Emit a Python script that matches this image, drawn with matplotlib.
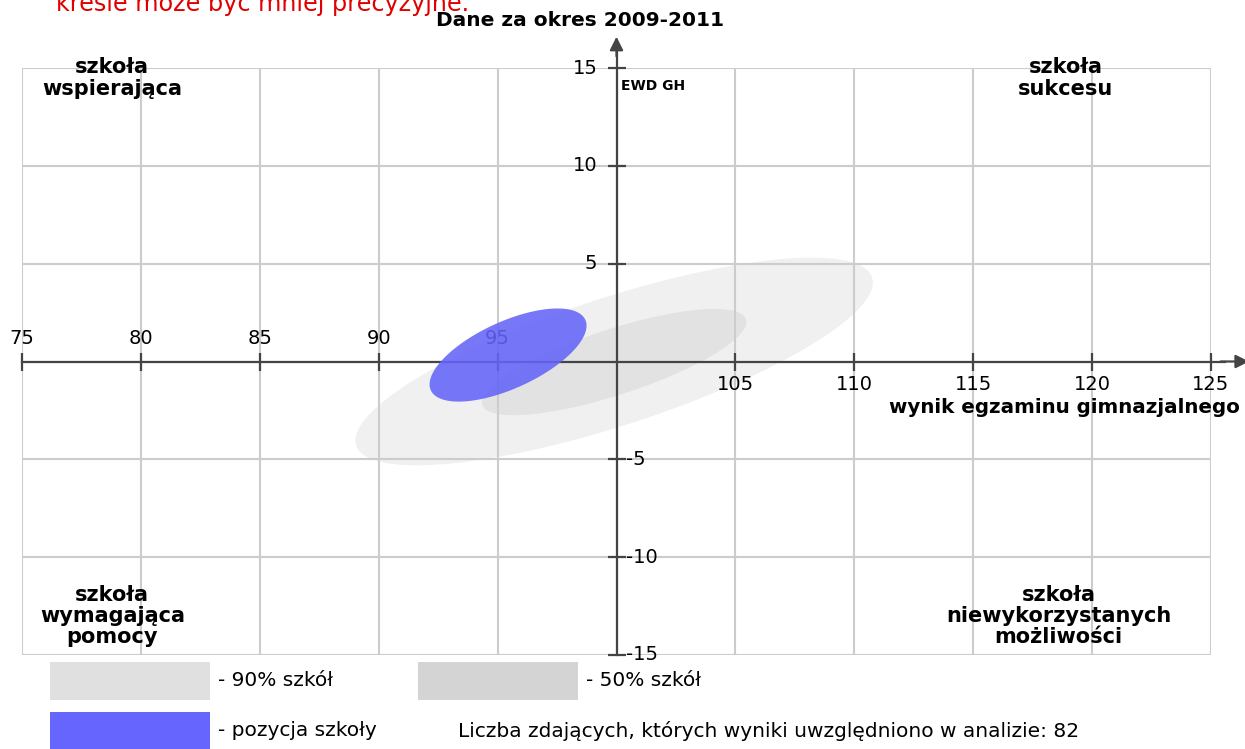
import numpy as np
import matplotlib.pyplot as plt
from matplotlib.patches import Rectangle

# -------- data ----------
x_ticks = [75, 80, 85, 90, 95, 100, 105, 110, 115, 120, 125]
y_ticks = [-15, -10, -5, 5, 10, 15]

# ellipses: centre x, centre y, half-width (x), half-height (y), tilt phase (deg)
ell_90 = (99.9, 0.0, 10.85, 5.27, 40.0)
ell_50 = (99.9, -0.03, 5.53, 2.68, 40.0)
ell_school = (95.44, 0.33, 3.30, 2.38, 51.0)

n_students = 82

W, H = 1245, 749
fig = plt.figure(figsize=(W / 100, H / 100), dpi=100)
ax = fig.add_axes([22 / W, 1 - 655 / H, (1211 - 22) / W, (655 - 68) / H])
ax.set_xlim(75, 125)
ax.set_ylim(-15, 15)


def ellipse_xy(e, n=200):
    cx, cy, a, b, ph = e
    t = np.linspace(0, 2 * np.pi, n)
    return cx + a * np.cos(t), cy + b * np.cos(t - np.radians(ph))


# grid
for v in range(75, 126, 5):
    ax.axvline(v, color="#cccccc", lw=1.5, zorder=2)
for v in range(-15, 16, 5):
    ax.axhline(v, color="#cccccc", lw=1.5, zorder=2)
for s in ax.spines.values():
    s.set_visible(False)
ax.set_xticks([])
ax.set_yticks([])

# ellipses
x, y = ellipse_xy(ell_90)
ax.fill(x, y, color="#f0f0f0", zorder=1)
x, y = ellipse_xy(ell_50)
ax.fill(x, y, color="#e2e2e2", zorder=1.5)

# axes with arrows
axis_col = "#444444"
ax.plot([75, 125.6], [0, 0], color=axis_col, lw=1.6, zorder=3, clip_on=False)
ax.plot([100, 100], [-15, 15.9], color=axis_col, lw=1.6, zorder=3, clip_on=False)
ax.annotate("", xy=(126.6, 0), xytext=(125.4, 0), annotation_clip=False,
            arrowprops=dict(arrowstyle="-|>", color=axis_col, lw=1.6,
                            mutation_scale=20, shrinkA=0, shrinkB=0), zorder=3)
ax.annotate("", xy=(100, 16.6), xytext=(100, 15.6), annotation_clip=False,
            arrowprops=dict(arrowstyle="-|>", color=axis_col, lw=1.6,
                            mutation_scale=20, shrinkA=0, shrinkB=0), zorder=3)

xt = [v for v in x_ticks if v != 100]
ax.plot(xt, [0] * len(xt), ls="", marker="|", ms=13, mew=1.6, color=axis_col,
        zorder=3, clip_on=False)
ax.plot([100] * len(y_ticks), y_ticks, ls="", marker="_", ms=13, mew=1.6,
        color=axis_col, zorder=3, clip_on=False)

for v in xt:
    if v < 100:
        ax.text(v, 0.7, str(v), ha="center", va="bottom", fontsize=14, zorder=3)
    else:
        ax.text(v, -0.7, str(v), ha="center", va="top", fontsize=14, zorder=3)
for v in y_ticks:
    if v > 0:
        ax.text(99.2, v, str(v), ha="right", va="center", fontsize=14, zorder=3)
    else:
        ax.text(100.4, v, str(v), ha="left", va="center", fontsize=14, zorder=3)

# school position on top
x, y = ellipse_xy(ell_school)
ax.fill(x, y, color="#6464f8", alpha=0.88, lw=0, zorder=4)

# labels
ax.text(100.2, 14.1, "EWD GH", fontsize=10, fontweight="bold", ha="left",
        va="center", zorder=3)
ax.text(126.2, -2.35, "wynik egzaminu gimnazjalnego", fontsize=14.3,
        fontweight="bold", ha="right", va="center", zorder=3, clip_on=False)

corner_kw = dict(fontsize=15, fontweight="bold", ha="center", linespacing=1.08,
                 multialignment="center", zorder=3)
ax.text(78.8, 15.55, "szkoła\nwspierająca", va="top", **corner_kw)
ax.text(118.9, 15.55, "szkoła\nsukcesu", va="top", **corner_kw)
ax.text(78.8, -14.6, "szkoła\nwymagająca\npomocy", va="bottom", **corner_kw)
ax.text(118.6, -14.6, "szkoła\nniewykorzystanych\nmożliwości", va="bottom",
        **corner_kw)

# title and note
fig.text(580 / W, 1 - 20 / H, "Dane za okres 2009-2011", fontsize=14.5,
         fontweight="bold", ha="center", va="center")
fig.text(56 / W, 1 - 11 / H, "kresie może być mniej precyzyjne.", fontsize=17.2,
         color="#e00000", ha="left", va="baseline")

# legend
def legend_box(x0, y0, col):
    fig.add_artist(Rectangle((x0 / W, 1 - (y0 + 38) / H), 160 / W, 38 / H,
                             transform=fig.transFigure, color=col, lw=0))

legend_box(50, 662, "#e0e0e0")
legend_box(418, 662, "#d4d4d4")
legend_box(50, 712, "#6666ff")
leg_kw = dict(fontsize=14.5, ha="left", va="center")
fig.text(218 / W, 1 - 681 / H, "- 90% szkół", **leg_kw)
fig.text(586 / W, 1 - 681 / H, "- 50% szkół", **leg_kw)
fig.text(218 / W, 1 - 731 / H, "- pozycja szkoły", **leg_kw)
fig.text(458 / W, 1 - 731 / H,
         f"Liczba zdających, których wyniki uwzględniono w analizie: {n_students}",
         **leg_kw)

fig.savefig("out.png", dpi=100)
